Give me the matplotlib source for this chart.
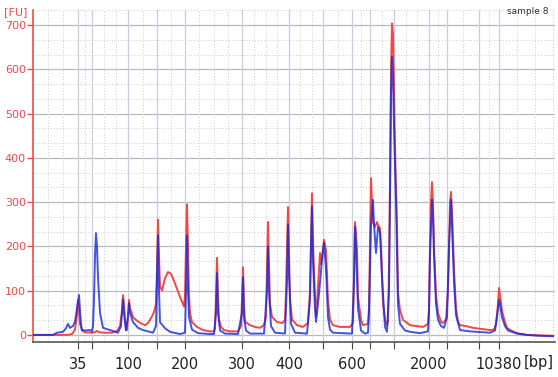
import numpy as np
import matplotlib.pyplot as plt

# migration position (px-like units) and fluorescence [FU]
red_x = [33, 68, 72, 75, 77, 78, 79, 80, 82, 85, 92, 95, 97, 99, 105, 112, 117, 120, 122, 123,
         124, 125, 126, 127, 128, 129, 130, 131, 133, 137, 141, 145, 148, 150, 152, 154, 156, 157,
         158, 159, 160, 162, 165, 168, 171, 174, 177, 180, 183, 184, 185, 186, 187, 188, 189, 190,
         192, 197, 203, 210, 214, 215, 216, 217, 218, 219, 221, 224, 230, 238, 241, 242, 243, 244,
         245, 250, 255, 260, 264, 266, 267, 268, 269, 270, 272, 277, 283, 285, 286, 287, 288, 289,
         290, 292, 297, 303, 308, 310, 311, 312, 313, 315, 316, 318, 320, 321, 322, 324, 326, 328,
         330, 333, 340, 350, 353, 354, 355, 356, 357, 358, 361, 363, 368, 369, 370, 371, 372, 373,
         375, 377, 378, 380, 381, 383, 385, 387, 388, 389, 390, 391, 392, 393, 394, 395, 396, 397,
         398, 400, 403, 410, 423, 428, 429, 430, 431, 432, 433, 434, 436, 438, 441, 443, 446, 448,
         449, 450, 451, 452, 454, 456, 458, 460, 466, 473, 480, 490, 494, 496, 498, 499, 500, 502,
         505, 507, 512, 517, 527, 540, 553]
red_y = [0, 0, 2, 12, 45, 79, 60, 25, 10, 6, 5, 6, 9, 6, 5, 5, 9, 20, 55, 90,
         70, 35, 15, 11, 40, 79, 60, 55, 40, 32, 26, 22, 27, 34, 42, 52, 70, 150,
         260, 180, 110, 100, 128, 142, 138, 122, 104, 86, 70, 64, 90, 200, 295, 200, 90, 50,
         29, 18, 11, 8, 8, 15, 80, 174, 90, 35, 18, 11, 8, 8, 20, 80, 153, 70,
         30, 22, 18, 16, 22, 40, 150, 255, 160, 70, 41, 29, 27, 35, 100, 200, 289, 180,
         80, 35, 22, 18, 27, 100, 214, 320, 208, 86, 41, 108, 185, 160, 175, 215, 192, 79,
         34, 22, 18, 18, 27, 130, 255, 230, 192, 86, 34, 22, 25, 60, 200, 354, 300, 253,
         244, 255, 248, 241, 200, 72, 35, 22, 30, 150, 350, 600, 704, 680, 560, 420, 330, 250,
         95, 56, 34, 22, 18, 25, 60, 200, 300, 345, 300, 200, 90, 50, 30, 27, 35, 100,
         200, 300, 323, 280, 150, 60, 30, 22, 20, 16, 14, 11, 12, 25, 70, 106, 90, 55,
         28, 16, 9, 4, 0, -1, -2]

blue_x = [33, 53, 57, 63, 66, 68, 70, 73, 75, 77, 79, 80, 81, 82, 86, 90, 92, 93, 94, 95,
          96, 97, 98, 100, 103, 110, 118, 121, 122, 123, 124, 126, 128, 129, 130, 133, 138, 143,
          153, 156, 157, 158, 159, 160, 165, 170, 180, 185, 186, 187, 188, 189, 192, 198, 210,
          214, 216, 217, 218, 220, 225, 238, 242, 243, 244, 246, 250, 264, 267, 268, 269, 271,
          275, 285, 287, 288, 289, 291, 295, 307, 310, 311, 312, 313, 315, 316, 318, 320, 322,
          324, 326, 328, 330, 333, 352, 354, 355, 356, 358, 361, 365, 368, 369, 371, 373, 374,
          376, 378, 380, 382, 385, 387, 389, 390, 391, 392, 393, 394, 396, 397, 398, 400, 405,
          410, 420, 428, 429, 430, 432, 433, 434, 436, 438, 441, 444, 447, 449, 451, 452, 454,
          456, 460, 470, 477, 490, 495, 497, 499, 500, 502, 505, 508, 517, 527, 540, 553]
blue_y = [0, 0, 5, 7, 15, 25, 16, 20, 30, 60, 90, 55, 25, 11, 10, 11, 8, 20, 80, 180,
          230, 200, 130, 50, 16, 11, 5, 20, 50, 80, 50, 10, 40, 72, 50, 29, 16, 11,
          5, 20, 120, 225, 100, 29, 15, 7, 2, 5, 100, 225, 100, 40, 12, 4, 2,
          2, 50, 140, 50, 10, 3, 2, 50, 130, 40, 10, 3, 3, 100, 200, 100, 20,
          5, 3, 120, 250, 140, 25, 5, 3, 80, 200, 290, 170, 60, 29, 70, 117, 170,
          208, 150, 40, 12, 5, 3, 120, 244, 200, 60, 10, 3, 5, 50, 250, 305, 250,
          185, 244, 232, 130, 18, 7, 100, 300, 540, 628, 590, 470, 300, 180, 70, 25, 10,
          7, 4, 8, 50, 180, 305, 270, 180, 70, 35, 20, 16, 40, 200, 305, 250, 120,
          45, 11, 8, 7, 5, 10, 40, 79, 70, 40, 20, 10, 3, 0, -2, -3]

tick_pos = [78, 92, 128, 157, 185, 242, 289, 323, 352, 370, 394, 429, 447, 479, 499]
tick_bp = ['35', '', '100', '', '200', '300', '400', '', '600', '', '', '2000', '', '', '10380']
fu_ticks = [0, 100, 200, 300, 400, 500, 600, 700]

red = '#ee4b4b'
fig = plt.figure(figsize=(5.58, 3.77), dpi=100)
ax = fig.add_axes([33 / 558, 35 / 377, 522 / 558, 332 / 377])
ax.set_xlim(33, 555)
ax.set_ylim(-16, 734)

# grid: solid at ticks, dotted in between
for y in fu_ticks:
    ax.axhline(y, color='#b8b8c4', lw=0.9, zorder=0)
for y in np.arange(100 / 3, 734, 100 / 3):
    if abs(y / 100 - round(y / 100)) > 0.01:
        ax.axhline(y, color='#cccccc', lw=0.7, ls=(0, (1, 2)), zorder=0)
for x in tick_pos:
    ax.axvline(x, color='#c8cedc', lw=0.9, zorder=0)
edges = [33] + tick_pos + [555]
for a, b in zip(edges[:-1], edges[1:]):
    if a == 33:
        minors = np.arange(b - 15, a + 5, -15)
    elif b == 555:
        minors = np.arange(a + 18, b, 18)
    else:
        n = max(2, round((b - a) / 13))
        minors = np.linspace(a, b, n + 1)[1:-1]
    for x in minors:
        ax.axvline(x, color='#cccccc', lw=0.7, ls=(0, (1, 2)), zorder=0)

ax.plot(red_x, red_y, color='#f04848', lw=1.4, zorder=2)
ax.plot(blue_x, blue_y, color='#1428dc', lw=1.4, alpha=0.8, zorder=3)

for s in ['top', 'right']:
    ax.spines[s].set_visible(False)
ax.spines['left'].set_color(red)
ax.spines['left'].set_linewidth(1.2)
ax.spines['bottom'].set_color('#555555')
ax.spines['bottom'].set_linewidth(1.2)

ax.set_yticks(fu_ticks)
ax.tick_params(axis='y', colors=red, labelsize=8, length=4, width=1, pad=1)
ax.set_xticks(tick_pos)
ax.set_xticklabels(tick_bp)
ax.tick_params(axis='x', colors='#444444', labelcolor='#222222', labelsize=10.5,
               length=5, width=0.8, pad=6)

fig.text(4 / 558, 1 - 12 / 377, '[FU]', color=red, fontsize=8, va='center', ha='left')
fig.text(528 / 558, 1 - 11 / 377, 'sample 8', color='#333333', fontsize=6.5,
         va='center', ha='center')
fig.text(524 / 558, 1 - 362 / 377, '[bp]', color='#222222', fontsize=10.5,
         va='center', ha='left')

fig.savefig('out.png', dpi=100)
